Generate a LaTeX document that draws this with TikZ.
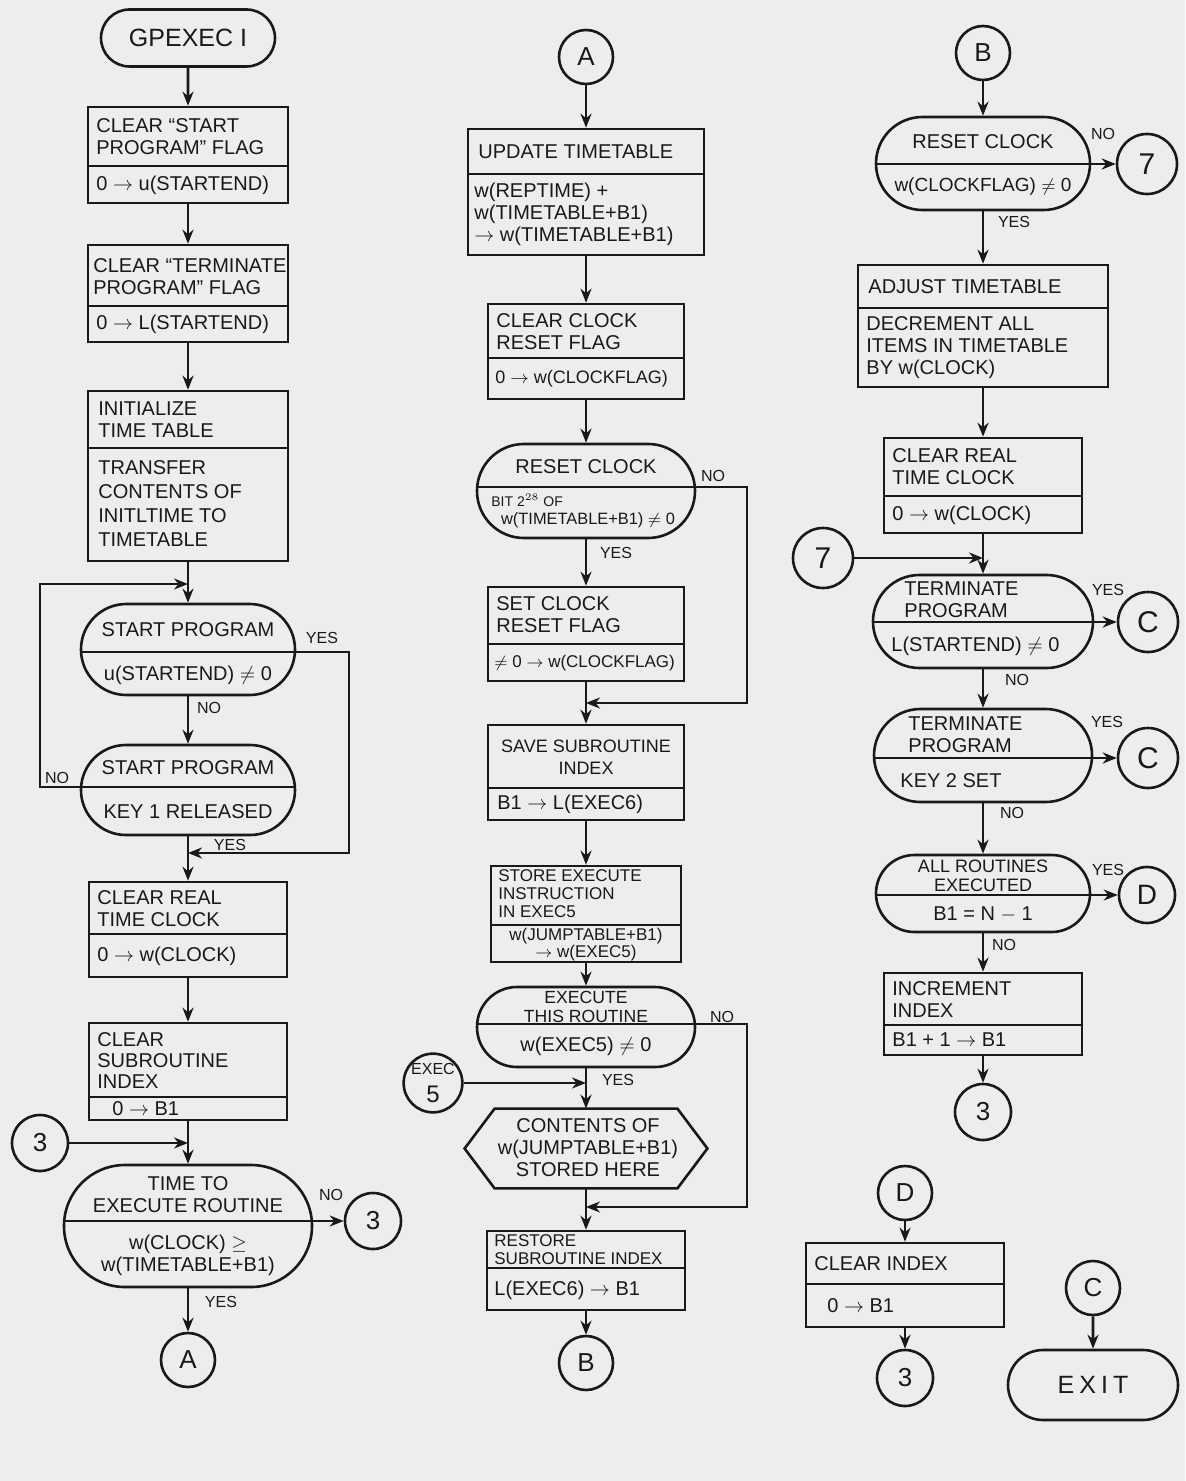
\documentclass[tikz,border=0pt]{standalone}
\usepackage{fontspec}
\setmainfont{Liberation Sans}
\usetikzlibrary{arrows.meta,shapes.misc,fit,calc}
\definecolor{bgc}{RGB}{237,237,237}
\definecolor{ink}{RGB}{25,25,25}
\tikzset{
  ln/.style={line width=1.3pt, draw=ink},
  arr/.style={ln, -{Stealth[length=7pt,width=5.5pt]}},
  boxst/.style={ln, rectangle, inner sep=0pt},
  decst/.style={ln, rectangle, inner sep=0pt},
  circ/.style={ln, circle, inner sep=0pt, text=ink, font=\fontsize{13}{14}\selectfont},
  term/.style={ln, rounded rectangle, inner sep=0pt, text=ink, font=\fontsize{12.5}{14}\selectfont},
  txt/.style={inner sep=0pt, align=left, text=ink, font=\fontsize{10}{11}\selectfont},
  ctxt/.style={inner sep=0pt, align=center, text=ink, font=\fontsize{10}{11}\selectfont},
  tight/.style={font=\fontsize{8.5}{9}\selectfont},
  lab/.style={inner sep=0pt, text=ink, font=\fontsize{8}{9}\selectfont},
}
\newcommand{\procbox}[6]{%
  \node[boxst, fit={(#2,#3) (#4,#5)}] (#1) {};
  \draw[ln] (#2,#6) -- (#4,#6);
}
\newcommand{\decnode}[6]{%
  \pgfmathsetmacro\tmpR{(#5-#3)/2}%
  \pgfmathsetmacro\tmpRC{(#5-#3)/4-0.05}%
  \pgfmathsetmacro\tmpCY{(#3+#5)/2}%
  \pgfmathsetmacro\tmpCX{(#2+#4)/2}%
  \pgfmathsetmacro\tmpD{#6-\tmpCY}%
  \pgfmathsetmacro\tmpH{(#4-#2)/2-\tmpR+sqrt(\tmpR*\tmpR-\tmpD*\tmpD)}%
  \node[decst, rounded corners=\tmpRC pt, fit={(#2,#3) (#4,#5)}] (#1) {};
  \coordinate (#1-l) at (\tmpCX-\tmpH,#6);
  \coordinate (#1-r) at (\tmpCX+\tmpH,#6);
  \draw[ln] (#1-l) -- (#1-r);
}
\begin{document}
\begin{tikzpicture}[x=0.5pt,y=-0.5pt]
\fill[bgc] (0,0) rectangle (1185,1481);
\useasboundingbox (0,0) rectangle (1185,1481);

% ================= LEFT COLUMN =================
\node[term, minimum width=87pt, minimum height=28.5pt] (gp) at (188,38) {GPEXEC I};

\procbox{b1}{88}{107}{288}{203}{166}
\node[txt, anchor=west] (b1t) at (96,137) {CLEAR “START\\PROGRAM” FLAG};
\node[txt, anchor=west] (b1b) at (96,185) {0 $\rightarrow$ u(STARTEND)};

\procbox{b2}{88}{245}{288}{342}{306}
\node[txt, anchor=west] (b2t) at (93,277) {CLEAR “TERMINATE\\PROGRAM” FLAG};
\node[txt, anchor=west] (b2b) at (96,324) {0 $\rightarrow$ L(STARTEND)};

\procbox{b3}{88}{391}{288}{561}{448}
\node[txt, anchor=west] (b3t) at (98,420) {INITIALIZE\\TIME TABLE};
\node[txt, anchor=west, font=\fontsize{10}{12}\selectfont] (b3b) at (98,504) {TRANSFER\\CONTENTS OF\\INITLTIME TO\\TIMETABLE};

\decnode{d1}{81}{604}{295}{695}{652}
\node[ctxt] (d1t) at (188,630) {START PROGRAM};
\node[ctxt] (d1b) at (188,675) {u(STARTEND) $\neq$ 0};

\decnode{d2}{81}{745}{295}{835}{787}
\node[ctxt] (d2t) at (188,768) {START PROGRAM};
\node[ctxt] (d2b) at (188,812) {KEY 1 RELEASED};

\procbox{b4}{89}{882}{287}{977}{934}
\node[txt, anchor=west] (b4t) at (97,909) {CLEAR REAL\\TIME CLOCK};
\node[txt, anchor=west] (b4b) at (97,956) {0 $\rightarrow$ w(CLOCK)};

\procbox{b5}{89}{1023}{287}{1120}{1097}
\node[txt, anchor=west, font=\fontsize{10}{10.5}\selectfont] (b5t) at (97,1061) {CLEAR\\SUBROUTINE\\INDEX};
\node[txt, anchor=west] (b5b) at (112,1109) {0 $\rightarrow$ B1};

\decnode{d3}{64}{1165}{312}{1287}{1221}
\node[ctxt] (d3t) at (188,1195) {TIME TO\\EXECUTE ROUTINE};
\node[ctxt] (d3b) at (188,1255) {w(CLOCK) $\geq$\\w(TIMETABLE+B1)};

\node[circ, minimum size=28pt] (c3a) at (40,1143) {3};
\node[circ, minimum size=28pt] (c3b) at (373,1221) {3};
\node[circ, minimum size=27pt] (cA1) at (188,1360) {A};

\coordinate (j0) at (188,584);
\coordinate (j1) at (188,853);
\coordinate (j2) at (188,1143);

\draw[arr] (gp) -- (b1);
\draw[arr] (b1) -- (b2);
\draw[arr] (b2) -- (b3);
\draw[arr] (b3) -- (d1);
\draw[arr] (d1) -- (d2);
\draw[arr] (d2-l) -- ++(-41,0) |- (j0);
\draw[arr] (d1-r) -- ++(54,0) |- (j1);
\draw[arr] (d2) -- (b4);
\draw[arr] (b4) -- (b5);
\draw[arr] (b5) -- (d3);
\draw[arr] (c3a) -- (j2);
\draw[arr] (d3-r) -- (c3b);
\draw[arr] (d3) -- (cA1);

\node[lab] (l1) at (322,638) {YES};
\node[lab] (l2) at (209,708) {NO};
\node[lab] (l3) at (57,778) {NO};
\node[lab] (l4) at (230,845) {YES};
\node[lab] (l5) at (331,1195) {NO};
\node[lab] (l6) at (221,1302) {YES};

% ================= MIDDLE COLUMN =================
\node[circ, minimum size=27pt] (cA2) at (586,57) {A};

\procbox{m1}{468}{129}{704}{255}{174}
\node[txt, anchor=west] (m1t) at (478,152) {UPDATE TIMETABLE};
\node[txt, anchor=west] (m1b) at (474,214) {w(REPTIME) +\\w(TIMETABLE+B1)\\$\rightarrow$ w(TIMETABLE+B1)};

\procbox{m2}{488}{304}{684}{399}{358}
\node[txt, anchor=west] (m2t) at (496,332) {CLEAR CLOCK\\RESET FLAG};
\node[txt, anchor=west, font=\fontsize{9}{10}\selectfont] (m2b) at (495,379) {0 $\rightarrow$ w(CLOCKFLAG)};

\decnode{m3}{477}{444}{695}{538}{487}
\node[ctxt] (m3t) at (586,467) {RESET CLOCK};
\node[txt, anchor=west, font=\fontsize{7}{8}\selectfont] (m3b1) at (491,500) {BIT 2$^{28}$ OF};
\node[ctxt, font=\fontsize{8.2}{9}\selectfont] (m3b2) at (588,520) {w(TIMETABLE+B1) $\neq$ 0};

\procbox{m4}{488}{587}{684}{681}{644}
\node[txt, anchor=west] (m4t) at (496,615) {SET CLOCK\\RESET FLAG};
\node[txt, anchor=west, font=\fontsize{8.5}{10}\selectfont] (m4b) at (494,663) {$\neq$ 0 $\rightarrow$ w(CLOCKFLAG)};

\procbox{m5}{488}{725}{684}{820}{788}
\node[ctxt, font=\fontsize{9}{11}\selectfont] (m5t) at (586,757) {SAVE SUBROUTINE\\INDEX};
\node[txt, anchor=west] (m5b) at (497,804) {B1 $\rightarrow$ L(EXEC6)};

\procbox{m6}{491}{866}{681}{962}{925}
\node[txt, tight, anchor=west] (m6t) at (498,894) {STORE EXECUTE\\INSTRUCTION\\IN EXEC5};
\node[ctxt, font=\fontsize{8.5}{8.5}\selectfont] (m6b) at (586,945) {w(JUMPTABLE+B1)\\$\rightarrow$ w(EXEC5)};

\decnode{m7}{477}{987}{695}{1067}{1024}
\node[ctxt, font=\fontsize{8.8}{9.8}\selectfont] (m7t) at (586,1007) {EXECUTE\\THIS ROUTINE};
\node[ctxt] (m7b) at (586,1046) {w(EXEC5) $\neq$ 0};

\node[circ, minimum size=27pt, align=center] (cE5) at (433,1083) {{\fontsize{8}{8}\selectfont EXEC}\\{\fontsize{12}{10}\selectfont 5}};

\node[inner sep=0pt, fit={(465,1109) (707,1188)}] (hex) {};
\draw[ln] (hex.west) -- ($(hex.north west)+(30,0)$) -- ($(hex.north east)+(-30,0)$) -- (hex.east)
  -- ($(hex.south east)+(-30,0)$) -- ($(hex.south west)+(30,0)$) -- cycle;
\node[ctxt] (hext) at (588,1148) {CONTENTS OF\\w(JUMPTABLE+B1)\\STORED HERE};

\procbox{m8}{487}{1231}{685}{1310}{1268}
\node[txt, tight, anchor=west] (m8t) at (494,1250) {RESTORE\\SUBROUTINE INDEX};
\node[txt, anchor=west] (m8b) at (494,1290) {L(EXEC6) $\rightarrow$ B1};

\node[circ, minimum size=27pt] (cB1) at (586,1363) {B};

\coordinate (j3) at (586,703);
\coordinate (j4) at (586,1083);
\coordinate (j5) at (586,1207);

\draw[arr] (cA2) -- (m1);
\draw[arr] (m1) -- (m2);
\draw[arr] (m2) -- (m3);
\draw[arr] (m3) -- (m4);
\draw[arr] (m4) -- (m5);
\draw[arr] (m3-r) -- ++(52,0) |- (j3);
\draw[arr] (m5) -- (m6);
\draw[arr] (m6) -- (m7);
\draw[arr] (m7) -- (hex);
\draw[arr] (cE5) -- (j4);
\draw[arr] (hex) -- (m8);
\draw[arr] (m7-r) -- ++(52,0) |- (j5);
\draw[arr] (m8) -- (cB1);

\node[lab] (l7) at (713,476) {NO};
\node[lab] (l8) at (616,553) {YES};
\node[lab] (l9) at (722,1017) {NO};
\node[lab] (l10) at (618,1080) {YES};

% ================= RIGHT COLUMN =================
\node[circ, minimum size=27pt] (cB2) at (983,53) {B};

\decnode{r1}{876}{117}{1090}{210}{164}
\node[ctxt] (r1t) at (983,142) {RESET CLOCK};
\node[ctxt, font=\fontsize{9.5}{11}\selectfont] (r1b) at (983,187) {w(CLOCKFLAG) $\neq$ 0};
\node[circ, minimum size=30pt, font=\fontsize{15}{16}\selectfont] (c7a) at (1147,164) {7};

\procbox{r2}{858}{265}{1108}{387}{308}
\node[txt, anchor=west] (r2t) at (868,287) {ADJUST TIMETABLE};
\node[txt, anchor=west] (r2b) at (866,348) {DECREMENT ALL\\ITEMS IN TIMETABLE\\BY w(CLOCK)};

\procbox{r3}{884}{438}{1082}{533}{496}
\node[txt, anchor=west] (r3t) at (892,467) {CLEAR REAL\\TIME CLOCK};
\node[txt, anchor=west] (r3b) at (892,515) {0 $\rightarrow$ w(CLOCK)};

\node[circ, minimum size=30pt, font=\fontsize{15}{16}\selectfont] (c7b) at (823,558) {7};

\decnode{r4}{873}{575}{1093}{668}{622}
\node[txt, anchor=west] (r4t) at (904,600) {TERMINATE\\PROGRAM};
\node[txt, anchor=west] (r4b) at (891,646) {L(STARTEND) $\neq$ 0};
\node[circ, minimum size=30pt, font=\fontsize{15}{16}\selectfont] (cC1) at (1148,622) {C};

\decnode{r5}{874}{709}{1092}{802}{758}
\node[txt, anchor=west] (r5t) at (908,735) {TERMINATE\\PROGRAM};
\node[txt, anchor=west] (r5b) at (900,781) {KEY 2 SET};
\node[circ, minimum size=30pt, font=\fontsize{15}{16}\selectfont] (cC2) at (1148,758) {C};

\decnode{r6}{876}{855}{1090}{932}{895}
\node[ctxt, font=\fontsize{9}{9.5}\selectfont] (r6t) at (983,876) {ALL ROUTINES\\EXECUTED};
\node[ctxt] (r6b) at (983,914) {B1 = N $-$ 1};
\node[circ, minimum size=28pt, font=\fontsize{14}{15}\selectfont] (cD1) at (1147,895) {D};

\procbox{r7}{884}{973}{1082}{1055}{1025}
\node[txt, anchor=west] (r7t) at (892,1000) {INCREMENT\\INDEX};
\node[txt, anchor=west] (r7b) at (892,1040) {B1 + 1 $\rightarrow$ B1};

\node[circ, minimum size=28pt] (c3c) at (983,1112) {3};

\coordinate (j6) at (983,558);

\draw[arr] (cB2) -- (r1);
\draw[arr] (r1-r) -- (c7a);
\draw[arr] (r1) -- (r2);
\draw[arr] (r2) -- (r3);
\draw[arr] (r3) -- (r4);
\draw[arr] (c7b) -- (j6);
\draw[arr] (r4-r) -- (cC1);
\draw[arr] (r4) -- (r5);
\draw[arr] (r5-r) -- (cC2);
\draw[arr] (r5) -- (r6);
\draw[arr] (r6-r) -- (cD1);
\draw[arr] (r6) -- (r7);
\draw[arr] (r7) -- (c3c);

\node[lab] (l11) at (1103,134) {NO};
\node[lab] (l12) at (1014,222) {YES};
\node[lab] (l13) at (1108,590) {YES};
\node[lab] (l14) at (1017,680) {NO};
\node[lab] (l15) at (1107,722) {YES};
\node[lab] (l16) at (1012,813) {NO};
\node[lab] (l17) at (1108,870) {YES};
\node[lab] (l18) at (1004,945) {NO};

% ================= BOTTOM RIGHT =================
\node[circ, minimum size=27pt] (cD2) at (905,1193) {D};
\procbox{r8}{806}{1243}{1004}{1327}{1284}
\node[txt, anchor=west] (r8t) at (814,1264) {CLEAR INDEX};
\node[txt, anchor=west] (r8b) at (827,1306) {0 $\rightarrow$ B1};
\node[circ, minimum size=28pt] (c3d) at (905,1378) {3};

\node[circ, minimum size=27pt] (cC3) at (1093,1288) {C};
\node[term, minimum width=85pt, minimum height=35pt] (exit) at (1093,1385) {E\hspace{2.5pt}X\hspace{2.5pt}I\hspace{2.5pt}T};

\draw[arr] (cD2) -- (r8);
\draw[arr] (r8) -- (c3d);
\draw[arr] (cC3) -- (exit);

\end{tikzpicture}
\end{document}
